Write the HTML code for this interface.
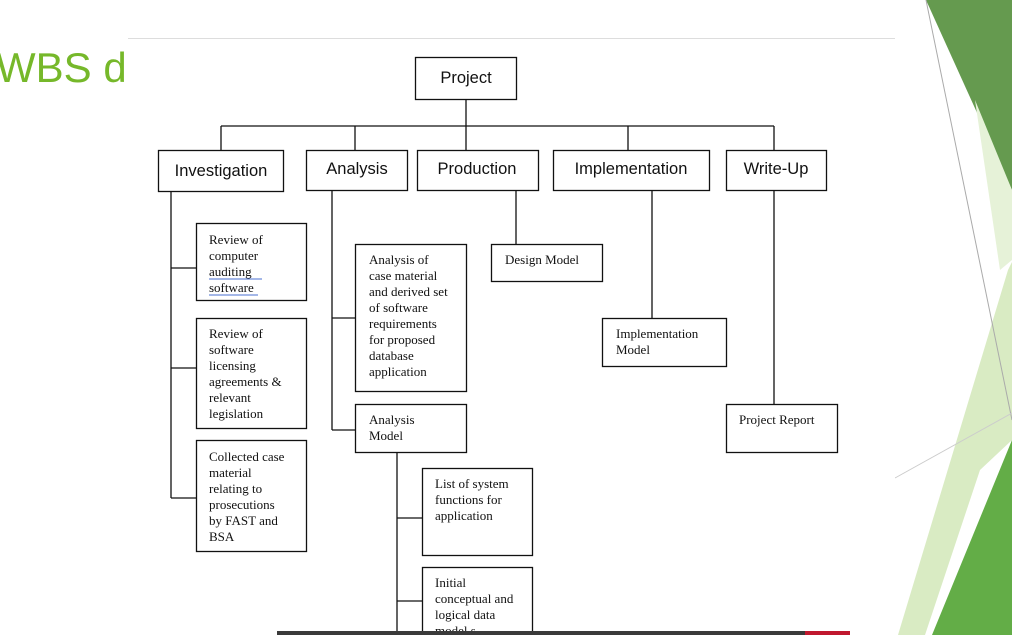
<!DOCTYPE html>
<html><head><meta charset="utf-8"><style>
html,body{margin:0;padding:0;background:#fff;width:1012px;height:635px;overflow:hidden}
svg{display:block}
.s{font-family:"Liberation Serif",serif;font-size:13px;fill:#111}
.a{font-family:"Liberation Sans",sans-serif;font-size:16.5px;fill:#111}
</style></head><body>
<svg width="1012" height="635" viewBox="0 0 1012 635">
<rect width="1012" height="635" fill="#fff"/>
<polygon points="926,0 1012,0 1012,190" fill="#659a4f"/>
<polygon points="975,100 1012,190 1012,260 1000,270" fill="#e6f2d8"/>
<polygon points="1008,270 1012,262 1012,440 980,470 925,635 898,635" fill="#d9ebc3"/>
<polygon points="1012,440 1012,635 932,635" fill="#63ad47"/>
<line x1="926" y1="0" x2="1012" y2="420" stroke="#aaa" stroke-width="1"/>
<line x1="895" y1="478" x2="1012" y2="413" stroke="#ccc" stroke-width="1"/>
<text x="-4" y="82" font-family="Liberation Sans,sans-serif" font-size="42" fill="#76b82a">WBS d</text>
<rect x="128" y="38" width="767" height="597" fill="#fff"/>
<line x1="128" y1="38.5" x2="895" y2="38.5" stroke="#ddd"/>
<g stroke="#111" stroke-width="1.3" fill="none">
<rect x="415.5" y="57.5" width="101" height="42"/>
<line x1="466" y1="99" x2="466" y2="150"/>
<line x1="221" y1="126" x2="774" y2="126"/>
<line x1="221" y1="126" x2="221" y2="150"/>
<line x1="355" y1="126" x2="355" y2="150"/>
<line x1="628" y1="126" x2="628" y2="150"/>
<line x1="774" y1="126" x2="774" y2="150"/>
<rect x="158.5" y="150.5" width="125" height="41"/>
<rect x="306.5" y="150.5" width="101" height="40"/>
<rect x="417.5" y="150.5" width="121" height="40"/>
<rect x="553.5" y="150.5" width="156" height="40"/>
<rect x="726.5" y="150.5" width="100" height="40"/>
<line x1="171" y1="191" x2="171" y2="498"/>
<line x1="171" y1="268" x2="196" y2="268"/>
<line x1="171" y1="368" x2="196" y2="368"/>
<line x1="171" y1="498" x2="196" y2="498"/>
<rect x="196.5" y="223.5" width="110" height="77"/>
<rect x="196.5" y="318.5" width="110" height="110"/>
<rect x="196.5" y="440.5" width="110" height="111"/>
<line x1="332" y1="190" x2="332" y2="430"/>
<line x1="332" y1="318" x2="355" y2="318"/>
<line x1="332" y1="430" x2="355" y2="430"/>
<rect x="355.5" y="244.5" width="111" height="147"/>
<rect x="355.5" y="404.5" width="111" height="48"/>
<line x1="397" y1="452" x2="397" y2="635"/>
<line x1="397" y1="518" x2="422" y2="518"/>
<line x1="397" y1="601" x2="422" y2="601"/>
<rect x="422.5" y="468.5" width="110" height="87"/>
<rect x="422.5" y="567.5" width="110" height="80"/>
<line x1="516" y1="190" x2="516" y2="244"/>
<rect x="491.5" y="244.5" width="111" height="37"/>
<line x1="652" y1="190" x2="652" y2="318"/>
<rect x="602.5" y="318.5" width="124" height="48"/>
<line x1="774" y1="190" x2="774" y2="404"/>
<rect x="726.5" y="404.5" width="111" height="48"/>
</g>
<g class="a" text-anchor="middle">
<text x="466" y="83">Project</text>
<text x="221" y="176">Investigation</text>
<text x="357" y="174">Analysis</text>
<text x="477" y="174">Production</text>
<text x="631" y="174">Implementation</text>
<text x="776" y="174">Write-Up</text>
</g>
<g class="s">
<text x="209" y="244">Review of</text><text x="209" y="260">computer</text><text x="209" y="276">auditing</text><text x="209" y="292">software</text>
<text x="209" y="338">Review of</text><text x="209" y="354">software</text><text x="209" y="370">licensing</text><text x="209" y="386">agreements &amp;</text><text x="209" y="402">relevant</text><text x="209" y="418">legislation</text>
<text x="209" y="461">Collected case</text><text x="209" y="477">material</text><text x="209" y="493">relating to</text><text x="209" y="509">prosecutions</text><text x="209" y="525">by FAST and</text><text x="209" y="541">BSA</text>
<text x="369" y="264">Analysis of</text><text x="369" y="280">case material</text><text x="369" y="296">and derived set</text><text x="369" y="312">of software</text><text x="369" y="328">requirements</text><text x="369" y="344">for proposed</text><text x="369" y="360">database</text><text x="369" y="376">application</text>
<text x="369" y="424">Analysis</text><text x="369" y="440">Model</text>
<text x="435" y="488">List of system</text><text x="435" y="504">functions for</text><text x="435" y="520">application</text>
<text x="435" y="587">Initial</text><text x="435" y="603">conceptual and</text><text x="435" y="619">logical data</text><text x="435" y="635">model s</text>
<text x="505" y="264">Design Model</text>
<text x="616" y="338">Implementation</text><text x="616" y="354">Model</text>
<text x="739" y="424">Project Report</text>
</g>
<line x1="209" y1="279" x2="262" y2="279" stroke="#4a6fd0" stroke-width="1"/>
<line x1="209" y1="295" x2="258" y2="295" stroke="#4a6fd0" stroke-width="1"/>
<rect x="277" y="631" width="573" height="4" fill="#3a3a3a"/>
<rect x="805" y="631" width="45" height="4" fill="#c0182e"/>
</svg>
</body></html>
